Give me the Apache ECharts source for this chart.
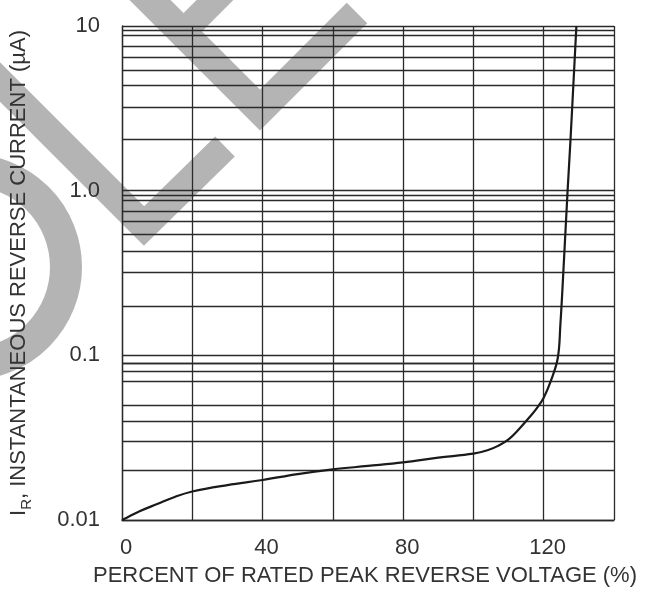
<!DOCTYPE html>
<html>
<head>
<meta charset="utf-8">
<script src="https://cdn.jsdelivr.net/npm/echarts@6/dist/echarts.min.js"></script>
<style>
html,body{margin:0;padding:0;background:#fff;}
#chart{width:654px;height:592px;}
</style>
</head>
<body>
<div id="chart"></div>
<script>
// ---- data ----
const percentVoltage = [0, 2, 5, 10, 15, 20, 30, 40, 50, 60, 70, 80, 90, 100, 104, 107, 110, 113, 116, 118, 120, 122, 124, 124.75, 125.3, 126.8, 127.6, 129.3];
const reverseCurrent = [0.01, 0.0105, 0.0113, 0.0125, 0.0138, 0.0149, 0.0163, 0.0175, 0.0190, 0.0203, 0.0213, 0.0224, 0.0239, 0.0253, 0.0265, 0.0282, 0.0309, 0.0357, 0.0422, 0.0476, 0.0553, 0.0697, 0.0963, 0.155, 0.246, 1.0, 2.0, 10];
const xTickLabels = [0, 40, 80, 120];
const yTickValues = [0.01, 0.1, 1, 10];
const yTickLabels = ['0.01', '0.1', '1.0', '10'];
const decadeStarts = [0.01, 0.1, 1];
const minorGridMultipliers = [2.04, 3.19, 4.34, 5.36, 6.5, 7.53, 8.75, 9.4];

const FONT = "'Liberation Sans', Arial, sans-serif";
const INK = '#2a2a2a';
const TXT = '#333';
const WM = '#b4b4b4';

const minorGrid = [];
decadeStarts.forEach(d => minorGridMultipliers.forEach(m => minorGrid.push({ yAxis: d * m })));

const chart = echarts.init(document.getElementById('chart'), null, { renderer: 'canvas' });
chart.setOption({
  backgroundColor: '#fff',
  animation: false,
  grid: { left: 119, right: 40, top: 26, bottom: 72 },
  graphic: [
    { type: 'polyline', z: -1, silent: true, shape: { points: [[130, -20], [260, 110], [357, 13]] },
      style: { stroke: WM, lineWidth: 29, fill: null, lineCap: 'butt', lineJoin: 'miter' } },
    { type: 'polyline', z: -1, silent: true, shape: { points: [[240, -25], [182, 33]] },
      style: { stroke: WM, lineWidth: 26, fill: null, lineCap: 'butt' } },
    { type: 'polyline', z: -1, silent: true, shape: { points: [[-30, 52], [144, 226], [225, 146.5]] },
      style: { stroke: WM, lineWidth: 28, fill: null, lineCap: 'butt', lineJoin: 'miter' } },
    { type: 'circle', z: -1, silent: true, shape: { cx: -31, cy: 267, r: 97 },
      style: { stroke: WM, lineWidth: 32, fill: null } }
  ],
  xAxis: {
    type: 'value', min: 0, max: 140, interval: 20,
    axisLine: { show: true, lineStyle: { color: INK, width: 1.3 } },
    axisTick: { show: false },
    splitLine: { show: true, lineStyle: { color: INK, width: 1.3 } },
    axisLabel: {
      margin: 17, color: TXT, fontSize: 22, fontFamily: FONT, padding: [0, 0, 0, 8],
      formatter: v => xTickLabels.includes(v) ? String(v) : ''
    },
    name: 'PERCENT OF RATED PEAK REVERSE VOLTAGE (%)',
    nameLocation: 'middle', nameGap: 45,
    nameTextStyle: { color: TXT, fontSize: 22, fontFamily: FONT, padding: [0, 6, 0, 0] }
  },
  yAxis: {
    type: 'log', logBase: 10, min: 0.01, max: 10, splitNumber: 3,
    axisLine: { show: true, lineStyle: { color: INK, width: 1.3 } },
    axisTick: { show: false },
    splitLine: { show: true, lineStyle: { color: INK, width: 1.3 } },
    axisLabel: {
      margin: 22, color: TXT, fontSize: 22, fontFamily: FONT,
      formatter: v => {
        let best = 0, bd = Infinity;
        yTickValues.forEach((t, i) => { const d = Math.abs(Math.log10(v) - Math.log10(t)); if (d < bd) { bd = d; best = i; } });
        return yTickLabels[best];
      }
    },
    name: '{a|I}{b|R}{a|, INSTANTANEOUS REVERSE CURRENT (µA)}',
    nameLocation: 'middle', nameGap: 88, nameRotate: 90,
    nameTextStyle: {
      color: TXT, fontFamily: FONT,
      rich: {
        a: { fontSize: 22, color: TXT, fontFamily: FONT, lineHeight: 30, verticalAlign: 'middle' },
        b: { fontSize: 15, color: TXT, fontFamily: FONT, lineHeight: 15, verticalAlign: 'bottom' }
      }
    }
  },
  series: [{
    type: 'line',
    data: percentVoltage.map((x, i) => [x, reverseCurrent[i]]),
    showSymbol: false, symbol: 'none',
    smooth: 0.4,
    lineStyle: { color: '#1a1a1a', width: 2.2 },
    z: 5,
    markLine: {
      silent: true, symbol: ['none', 'none'], label: { show: false },
      lineStyle: { color: INK, width: 1.3, type: 'solid' },
      emphasis: { disabled: true },
      data: minorGrid
    }
  }]
});
</script>
</body>
</html>
